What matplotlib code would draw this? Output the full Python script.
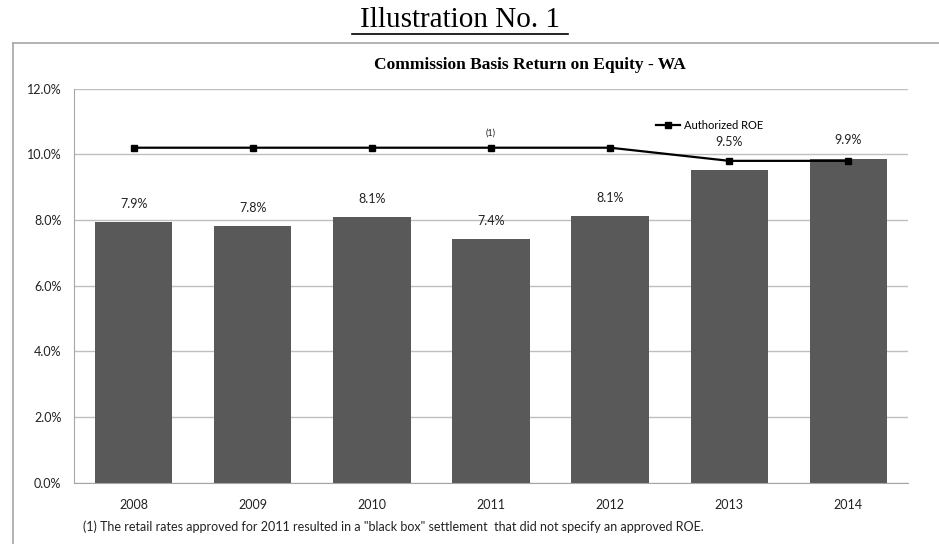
import matplotlib
matplotlib.use("Agg")
import numpy as np
from matplotlib import pyplot as plt
from matplotlib.lines import Line2D
from matplotlib.ticker import FuncFormatter

years = ["2008", "2009", "2010", "2011", "2012", "2013", "2014"]
basis_roe = [7.94, 7.82, 8.09, 7.42, 8.13, 9.52, 9.87]
basis_labels = ["7.9%", "7.8%", "8.1%", "7.4%", "8.1%", "9.5%", "9.9%"]
authorized_roe = [10.2, 10.2, 10.2, 10.2, 10.2, 9.8, 9.8]
footnote = '(1) The retail rates approved for 2011 resulted in a "black box" settlement  that did not specify an approved ROE.'

W, H = 939, 544
fig = plt.figure(figsize=(W / 100, H / 100), dpi=100)
ax = fig.add_axes([74 / W, 1 - 482.7 / H, (908 - 74) / W, (482.7 - 88.6) / H])

x = np.arange(len(years))
ax.bar(x, basis_roe, width=0.65, color="#595959", zorder=2)
ax.plot(x, authorized_roe, color="black", lw=1.6, marker="s", markersize=5,
        zorder=3, label="Authorized ROE")

for xi, v, lab in zip(x, basis_roe, basis_labels):
    # the 2013 label sits clear of the ROE line, like in the original
    off = 20 if lab == "9.5%" else 13
    ax.annotate(lab, (xi, v), xytext=(0, off), textcoords="offset points",
                ha="center", va="center", fontsize=9, family="Lato", color="#222222")
ax.annotate("(1)", (3, authorized_roe[3]), xytext=(0, 10.5), textcoords="offset points",
            ha="center", va="center", fontsize=6.5, family="Lato", color="#222222")

ax.set_xlim(-0.5, len(years) - 0.5)
ax.set_ylim(0, 12)
ax.set_yticks(np.arange(0, 12.1, 2))
ax.yaxis.set_major_formatter(FuncFormatter(lambda v, p: f"{v:.1f}%"))
ax.set_xticks(x)
ax.set_xticklabels(years)
ax.grid(axis="y", color="#BFBFBF", lw=1, zorder=0)
ax.set_axisbelow(True)
for s in ["top", "right"]:
    ax.spines[s].set_visible(False)
for s in ["left", "bottom"]:
    ax.spines[s].set_color("#A6A6A6")
ax.tick_params(length=0, labelsize=9, colors="#222222", pad=12)
ax.tick_params(axis="y", pad=9)
for t in ax.get_xticklabels() + ax.get_yticklabels():
    t.set_family("Lato")

leg = ax.legend(loc="center left", bbox_to_anchor=((650 - 74) / 834, 1 - (125 - 88.6) / 394),
                frameon=False, prop={"family": "Lato", "size": 8},
                handlelength=2.2, handletextpad=0.4, borderpad=0)

# outer frame
fig.add_artist(Line2D([12.7 / W, 1], [1 - 42.7 / H] * 2, color="#A6A6A6", lw=1.2,
                      transform=fig.transFigure))
fig.add_artist(Line2D([12.7 / W] * 2, [0, 1 - 42.7 / H], color="#A6A6A6", lw=1.2,
                      transform=fig.transFigure))

fig.text(460 / W, 1 - 20 / H, "Illustration No. 1", ha="center", va="center",
         fontsize=21, family="Liberation Serif")
fig.add_artist(Line2D([352 / W, 568 / W], [1 - 34 / H] * 2, color="black", lw=1.2,
                      transform=fig.transFigure))
fig.text(530 / W, 1 - 65 / H, "Commission Basis Return on Equity - WA", ha="center",
         va="center", fontsize=12.5, family="Liberation Serif", weight="bold")
fig.text(83 / W, 1 - 527 / H, footnote, ha="left", va="center", fontsize=9,
         family="Lato", color="#222222")

fig.savefig("out.png", dpi=100)
